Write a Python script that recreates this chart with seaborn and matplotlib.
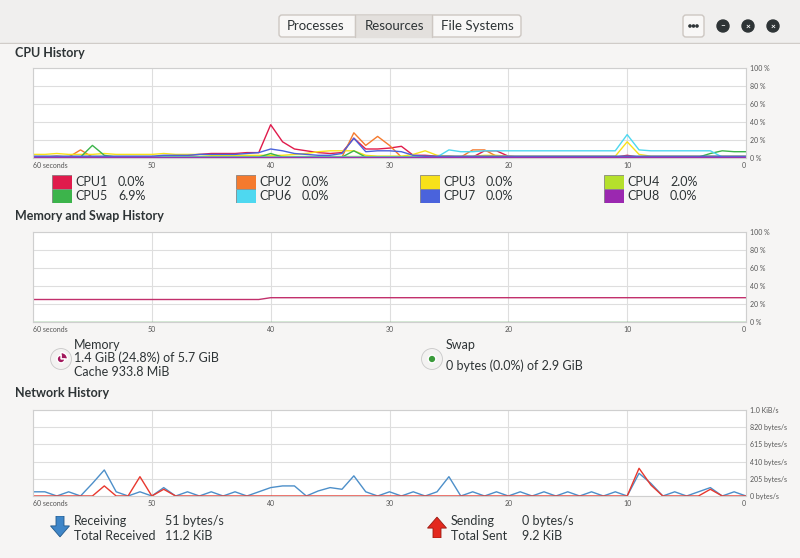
import numpy as np
import pandas as pd
import matplotlib
matplotlib.use("Agg")
import matplotlib.pyplot as plt
import matplotlib.patches as mp
import seaborn as sns

sns.set_theme(style="white")
plt.rcParams['font.family'] = ['Lato', 'DejaVu Sans']

seconds = list(range(60, -1, -1))
cpu_names = ["CPU1", "CPU2", "CPU3", "CPU4", "CPU5", "CPU6", "CPU7", "CPU8"]
cpu_colors = ["#e01b4c", "#f57a2e", "#f8e11a", "#b5e02c", "#3cb44b", "#4ed8f0", "#4a63dc", "#9b28b0"]
cpu_now = ["0.0%", "0.0%", "0.0%", "2.0%", "6.9%", "0.0%", "0.0%", "0.0%"]
cpu1 = [1,1,2,1,1,1,1,1,1,1,1,1,2,3,4,5,5,5,6,6,37,18,10,8,6,5,6,22,10,10,11,13,3,3,2,2,1,1,8,8,2,1,1,1,1,1,1,1,1,1,3,1,1,1,1,1,1,1,1,1,1]
cpu2 = [1,1,1,1,9,1,1,1,1,1,1,1,1,1,1,1,1,1,1,1,1,1,1,1,1,1,1,28,14,24,14,1,1,1,1,1,1,9,9,2,1,1,1,1,1,1,1,1,1,1,1,1,1,1,1,1,1,1,1,1,1]
cpu3 = [4,4,5,4,4,4,5,4,4,4,4,5,4,4,4,3,3,3,3,3,3,3,4,5,7,8,8,8,3,2,2,2,4,8,3,2,2,2,3,3,2,2,2,2,2,2,2,2,2,2,18,4,2,2,2,2,2,2,2,2,2]
cpu4 = [2,2,2,2,2,2,2,2,2,2,2,2,2,2,2,2,2,2,2,2,2,2,2,2,2,2,2,2,2,2,2,2,2,2,2,2,2,2,2,2,2,2,2,2,2,2,2,2,2,2,2,2,2,2,2,2,2,2,2,2,2]
cpu5 = [1,1,1,1,1,14,3,1,1,1,1,1,1,1,1,1,1,1,1,1,5,1,1,1,1,1,1,8,1,1,1,1,1,1,1,1,1,1,1,1,1,1,1,1,1,1,1,1,1,1,1,1,1,1,1,1,1,5,8,7,7]
cpu6 = [1,1,1,1,1,1,1,1,1,1,1,1,1,1,1,1,1,1,1,1,1,1,1,1,1,1,1,1,1,1,1,1,1,1,1,9,7,7,8,8,8,8,8,8,8,8,8,8,8,8,26,9,8,8,8,8,8,8,1,1,1]
cpu7 = [2,2,2,2,2,2,2,2,2,2,2,3,3,3,4,4,4,4,5,6,10,8,5,4,3,3,5,22,7,8,8,7,3,2,2,2,2,2,2,2,2,2,2,2,2,2,2,2,2,2,2,2,2,2,2,2,2,2,2,2,2]
cpu8 = [1]*61
cpu_series = [cpu1, cpu2, cpu3, cpu4, cpu5, cpu6, cpu7, cpu8]

memory = [25]*20 + [27]*41
swap = [0]*61

recv = [50,50,0,50,0,150,310,50,0,50,0,100,0,50,0,50,0,50,0,50,100,120,120,0,60,100,80,240,50,0,50,0,50,0,50,230,0,50,0,50,0,50,0,50,0,50,0,50,0,50,0,270,150,0,50,0,50,100,0,50,0]
sent = [0,0,0,0,0,0,120,0,0,230,0,80,0,0,0,0,0,0,0,0,0,0,0,0,0,0,0,0,0,0,0,0,0,0,0,0,0,0,0,0,0,0,0,0,0,0,0,0,0,0,0,330,130,0,0,0,0,80,0,0,0]

W, H = 800, 558
fig = plt.figure(figsize=(8, 5.58), dpi=100)
fig.patch.set_facecolor("#f6f5f4")

def px_axes(x0, y0, x1, y1):
    return fig.add_axes([x0 / W, 1 - y1 / H, (x1 - x0) / W, (y1 - y0) / H])

def T(x, y, s, **kw):
    fig.text(x / W, 1 - y / H, s, **kw)

# header bar
hdr = px_axes(0, 0, 800, 44); hdr.set_xlim(0, 800); hdr.set_ylim(44, 0); hdr.axis("off")
hdr.add_patch(mp.Rectangle((0, 0), 800, 43, color="#f0efee"))
hdr.plot([0, 800], [43, 43], color="#d0ccc8", lw=1)
hdr.add_patch(mp.FancyBboxPatch((279, 15), 242, 22, boxstyle="round,pad=0,rounding_size=3", fc="#f8f7f6", ec="#cdc7c2", lw=1))
hdr.add_patch(mp.Rectangle((355, 15.5), 77, 21, color="#e3e0dd"))
hdr.plot([355, 355], [15, 37], color="#cdc7c2", lw=1); hdr.plot([432, 432], [15, 37], color="#cdc7c2", lw=1)
for xx, s in [(316, "Processes"), (394, "Resources"), (477, "File Systems")]:
    hdr.text(xx, 26.5, s, ha="center", va="center", fontsize=9.5, color="#2e3436")
hdr.add_patch(mp.FancyBboxPatch((683, 15), 21, 22, boxstyle="round,pad=0,rounding_size=3", fc="#f8f7f6", ec="#cdc7c2", lw=1))
for dx in (-3.5, 0, 3.5):
    hdr.add_patch(mp.Circle((693.5 + dx, 26), 1.1, color="#2e3436"))
for xx, sym in [(723, "–"), (748, "×"), (773, "×")]:
    hdr.add_patch(mp.Circle((xx, 26), 6, color="#2e3436"))
    hdr.text(xx, 26, sym, ha="center", va="center", fontsize=6, color="white", fontweight="bold")

for y, s in [(53, "CPU History"), (216, "Memory and Swap History"), (393, "Network History")]:
    T(15, y, s, fontsize=9, fontweight="bold", color="#2e3436", va="center")

def setup(ax, yticks, ylabels):
    ax.set_facecolor("white")
    ax.set_xlim(60, 0)
    ax.set_ylim(yticks[0], yticks[-1])
    ax.set_xticks(range(60, -1, -10))
    ax.set_xticklabels(["60 seconds", "50", "40", "30", "20", "10", "0"])
    ax.set_yticks(yticks)
    ax.set_yticklabels(ylabels)
    ax.yaxis.tick_right()
    ax.grid(True, color="#dedede", lw=0.8)
    ax.tick_params(axis="both", labelsize=5, length=0, pad=3, colors="#555555")
    for sp in ax.spines.values():
        sp.set_color("#cfcfcf"); sp.set_linewidth(0.8)
    ax.set_xlabel(""); ax.set_ylabel("")
    ax.get_xticklabels()[0].set_ha("left")
    ax.get_xticklabels()[-1].set_ha("right")

# CPU
ax1 = px_axes(33, 68, 746, 158)
for vals, c in zip(cpu_series, cpu_colors):
    sns.lineplot(x=seconds, y=vals, color=c, lw=1, ax=ax1)
setup(ax1, [0, 20, 40, 60, 80, 100], ["0 %", "20 %", "40 %", "60 %", "80 %", "100 %"])

legx = [52, 236, 420, 604]
for i, (n, c, v) in enumerate(zip(cpu_names, cpu_colors, cpu_now)):
    x = legx[i % 4]; y = 182 if i < 4 else 196
    la = px_axes(x, y - 7, x + 20, y + 7); la.axis("off")
    la.add_patch(mp.Rectangle((0, 0), 1, 1, fc=c, ec="#777777", lw=0.5, transform=la.transAxes))
    T(x + 23, y, n, fontsize=9, va="center", color="#2e3436")
    T(x + 66, y, v, fontsize=9, va="center", color="#2e3436")

# Memory
ax2 = px_axes(33, 232, 746, 322)
sns.lineplot(x=seconds, y=memory, color="#c2306c", lw=1, ax=ax2)
sns.lineplot(x=seconds, y=swap, color="#3a9a3a", lw=1, ax=ax2)
setup(ax2, [0, 20, 40, 60, 80, 100], ["0 %", "20 %", "40 %", "60 %", "80 %", "100 %"])

ic = px_axes(50, 348, 72, 370); ic.axis("off"); ic.set_xlim(-1, 1); ic.set_ylim(-1, 1); ic.set_aspect("equal")
ic.add_patch(mp.Circle((0, 0), 0.95, fc="#f3f2f1", ec="#c8c8c8", lw=0.6))
ic.add_patch(mp.Wedge((0, 0), 0.6, 0, 90, fc="#a2195d"))
ic.add_patch(mp.Wedge((0, 0), 0.35, 90, 360, fc="#a2195d"))
T(74, 345, "Memory", fontsize=9, va="center", color="#2e3436")
T(74, 358, "1.4 GiB (24.8%) of 5.7 GiB", fontsize=9, va="center", color="#2e3436")
T(74, 372, "Cache 933.8 MiB", fontsize=9, va="center", color="#2e3436")
ic2 = px_axes(421, 348, 443, 370); ic2.axis("off"); ic2.set_xlim(-1, 1); ic2.set_ylim(-1, 1); ic2.set_aspect("equal")
ic2.add_patch(mp.Circle((0, 0), 0.95, fc="#f3f2f1", ec="#c8c8c8", lw=0.6))
ic2.add_patch(mp.Circle((0, 0), 0.35, fc="#3a9a3a"))
T(446, 345, "Swap", fontsize=9, va="center", color="#2e3436")
T(446, 366, "0 bytes (0.0%) of 2.9 GiB", fontsize=9, va="center", color="#2e3436")

# Network
ax3 = px_axes(33, 410, 746, 496)
sns.lineplot(x=seconds, y=recv, color="#4d8fc9", lw=1, ax=ax3)
sns.lineplot(x=seconds, y=sent, color="#e8382e", lw=1, ax=ax3)
setup(ax3, [0, 205, 410, 615, 820, 1024], ["0 bytes/s", "205 bytes/s", "410 bytes/s", "615 bytes/s", "820 bytes/s", "1.0 KiB/s"])

ar = px_axes(50, 516, 70, 538); ar.axis("off"); ar.set_xlim(0, 1); ar.set_ylim(0, 1)
ar.add_patch(mp.FancyArrow(0.5, 1, 0, -0.95, width=0.4, head_width=0.95, head_length=0.5, length_includes_head=True, fc="#3f86c8", ec="#23598a", lw=0.6))
ar2 = px_axes(427, 516, 447, 538); ar2.axis("off"); ar2.set_xlim(0, 1); ar2.set_ylim(0, 1)
ar2.add_patch(mp.FancyArrow(0.5, 0, 0, 0.95, width=0.4, head_width=0.95, head_length=0.5, length_includes_head=True, fc="#e3281e", ec="#9a1a12", lw=0.6))
for x, y, s in [(74, 521, "Receiving"), (165, 521, "51 bytes/s"), (74, 536, "Total Received"), (165, 536, "11.2 KiB"),
                (451, 521, "Sending"), (522, 521, "0 bytes/s"), (451, 536, "Total Sent"), (522, 536, "9.2 KiB")]:
    T(x, y, s, fontsize=9, va="center", color="#2e3436")

fig.savefig("out.png", dpi=100, facecolor=fig.get_facecolor())
